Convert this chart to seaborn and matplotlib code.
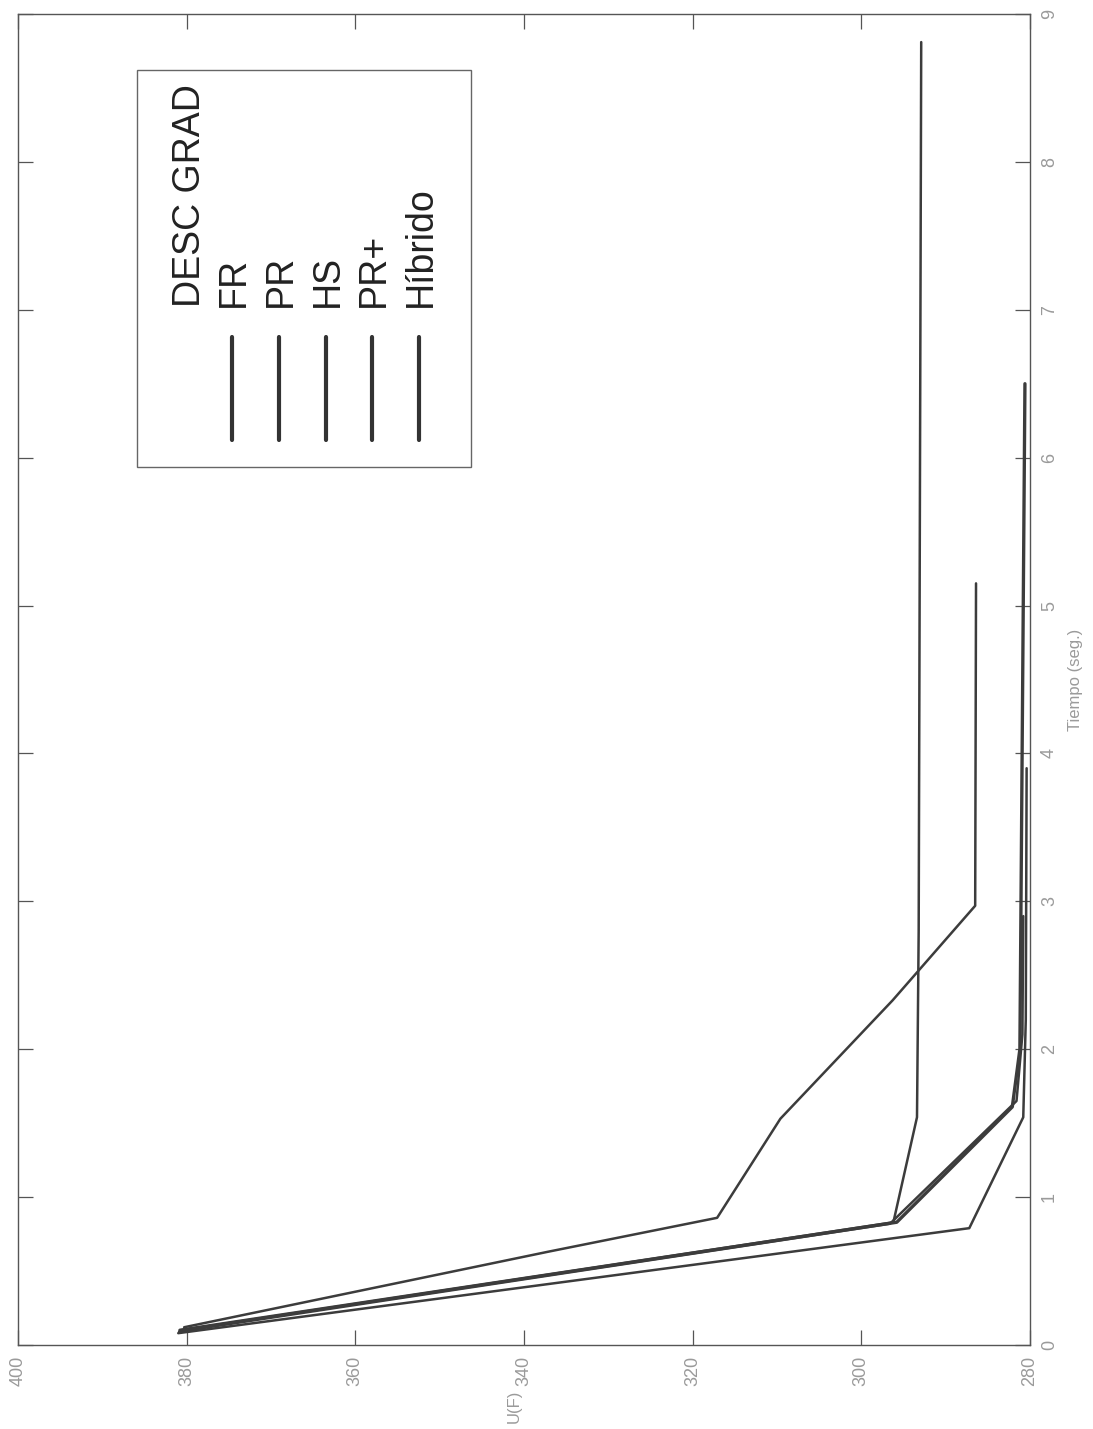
import numpy as np
import pandas as pd
import matplotlib
matplotlib.use("Agg")
import matplotlib.pyplot as plt
import seaborn as sns
from matplotlib.patches import Rectangle
from matplotlib.lines import Line2D

# the chart is a rotated figure: time runs up the page, U(F) runs across
legend_title = "DESC GRAD"
methods = ["FR", "PR", "HS", "PR+", "Híbrido"]

# time (seg.) and U(F) for each method
t_fr = [0.10, 0.83, 1.54, 2.80, 8.81]
u_fr = [380.6, 296.2, 293.4, 293.2, 292.9]

t_pr = [0.12, 0.63, 0.86, 1.53, 2.33, 2.97, 5.15]
u_pr = [380.3, 337.2, 317.1, 309.6, 296.3, 286.5, 286.4]

t_hs = [0.10, 0.83, 1.61, 2.00, 6.50]
u_hs = [380.8, 295.8, 282.1, 281.2, 280.6]

t_prp = [0.09, 0.82, 1.65, 2.10, 2.90]
u_prp = [380.9, 296.6, 281.6, 280.9, 280.8]

t_hib = [0.08, 0.79, 1.54, 2.20, 3.90]
u_hib = [381.0, 287.2, 280.8, 280.5, 280.4]

x_ticks = [400, 380, 360, 340, 320, 300, 280]
y_ticks = [0, 1, 2, 3, 4, 5, 6, 7, 8, 9]

all_t = [t_fr, t_pr, t_hs, t_prp, t_hib]
all_u = [u_fr, u_pr, u_hs, u_prp, u_hib]
rows = []
for name, ts, us in zip(methods, all_t, all_u):
    for i, (tt, uu) in enumerate(zip(ts, us)):
        rows.append({"method": name, "step": i, "t": tt, "U": uu})
df = pd.DataFrame(rows)

sns.set_style("white")
plt.rcParams['font.family'] = ['Liberation Sans', 'DejaVu Sans']

W, H = 1093, 1429
fig = plt.figure(figsize=(W / 100, H / 100), dpi=100)

# pixel helpers (image coords, top-left origin)
def fx(x):
    return x / W

def fy(y):
    return 1 - y / H

left, right, top, bottom = 18, 1030, 14, 1345
ax = fig.add_axes([fx(left), fy(bottom), fx(right) - fx(left), fy(top) - fy(bottom)])

line_col = "#3c3c3c"
widths = {"FR": 1.8, "PR": 1.8, "HS": 2.4, "PR+": 1.8, "Híbrido": 1.8}
for name in methods:
    sub = df[df["method"] == name]
    sns.lineplot(data=sub, x="U", y="t", sort=False, estimator=None,
                 color=line_col, linewidth=widths[name], ax=ax)

ax.set_xlim(400, 280)
ax.set_ylim(0, 9)
ax.set_xticks(x_ticks)
ax.set_yticks(y_ticks)
ax.set_xticklabels([str(v) for v in x_ticks])
ax.set_yticklabels([str(v) for v in y_ticks])

tick_col = "#9a9a9a"
ax.tick_params(axis='both', direction='in', length=11, width=0.9, color="#555555",
               top=True, bottom=True, left=True, right=True,
               labelleft=False, labelright=True, labelsize=13, labelcolor=tick_col)
ax.tick_params(axis='x', labelrotation=90, pad=8)
ax.tick_params(axis='y', labelrotation=90, pad=8)
for lab in ax.get_yticklabels():
    lab.set_va('center')

for sp in ax.spines.values():
    sp.set_color("#555555")
    sp.set_linewidth(1.0)

# axis labels
ax.set_xlabel("U(F)", rotation=90, fontsize=12, color=tick_col, va='center')
ax.xaxis.set_label_coords(0.49, -0.046)
ax.set_ylabel("Tiempo (seg.)", rotation=90, fontsize=12, color=tick_col, va='center')
ax.yaxis.set_label_position("right")
ax.yaxis.set_label_coords(1.038, 0.5)

# rotated legend drawn by hand
box = Rectangle((fx(137), fy(467)), fx(471) - fx(137), fy(70) - fy(467),
                transform=fig.transFigure, facecolor="white", edgecolor="#666666",
                linewidth=1.0, zorder=5)
fig.add_artist(box)

fig.text(fx(190), fy(307), legend_title, rotation=90, ha='center', va='bottom',
         fontsize=27, color="#222222", zorder=6)
leg_x = [234, 281, 328, 374, 421]
for name, xx in zip(methods, leg_x):
    fig.text(fx(xx), fy(307), name, rotation=90, ha='center', va='bottom',
             fontsize=27, color="#222222", zorder=6)
    fig.add_artist(Line2D([fx(xx - 2), fx(xx - 2)], [fy(440), fy(337)],
                          transform=fig.transFigure, color="#333333", linewidth=3, zorder=6))

plt.savefig("out.png", dpi=100)
